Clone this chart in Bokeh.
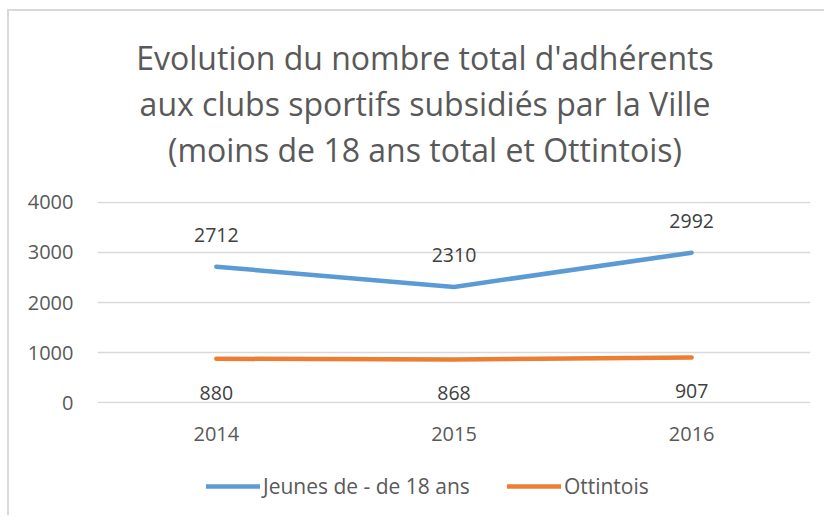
from bokeh.plotting import figure
from bokeh.models import (ColumnDataSource, Range1d, FactorRange, SingleIntervalTicker,
                          LabelSet, Legend, LegendItem, Div, Column)
from bokeh.core.properties import value
from bokeh.embed import file_html
from bokeh.resources import INLINE

years = ["2014", "2015", "2016"]
jeunes = [2712, 2310, 2992]
ottintois = [880, 868, 907]
series_names = ["Jeunes de - de 18 ans", "Ottintois"]
title_lines = ["Evolution du nombre total d'adhérents",
               "aux clubs sportifs subsidiés par la Ville",
               "(moins de 18 ans total et Ottintois)"]

FONT = "Open Sans"
GREY = "#595959"
BLUE = "#5b9bd5"
ORANGE = "#ed7d31"

src = ColumnDataSource(dict(
    year=years, jeunes=jeunes, ottintois=ottintois,
    jl=[str(v) for v in jeunes], ol=[str(v) for v in ottintois]))

title = Div(text="<br>".join(title_lines), width=798, height=138, margin=(24, 0, 0, 17),
            styles={"text-align": "center", "font-family": FONT, "font-size": "32px",
                    "line-height": "46px", "color": GREY, "white-space": "nowrap"})

# main chart
p = figure(width=815, height=285, output_backend="svg", toolbar_location=None,
           x_range=FactorRange(factors=years), y_range=Range1d(-10, 4010),
           min_border_left=88, min_border_right=14, min_border_top=28,
           min_border_bottom=55)
p.outline_line_color = None
p.margin = 0

for ax in (p.xaxis[0], p.yaxis[0]):
    ax.axis_line_color = None
    ax.major_tick_line_color = None
    ax.minor_tick_line_color = None
    ax.major_label_text_font = FONT
    ax.major_label_text_font_size = "20px"
    ax.major_label_text_color = GREY
p.yaxis[0].ticker = SingleIntervalTicker(interval=1000)
p.yaxis[0].major_label_standoff = 18
p.xaxis[0].major_label_standoff = 17

p.xgrid.grid_line_color = None
p.ygrid.grid_line_color = "#d9d9d9"
p.ygrid.grid_line_width = 1.5
p.ygrid.ticker = SingleIntervalTicker(interval=1000)

p.line(x="year", y="jeunes", source=src, line_color=BLUE, line_width=4.5, line_cap="round")
p.line(x="year", y="ottintois", source=src, line_color=ORANGE, line_width=4.5, line_cap="round")

p.add_layout(LabelSet(x="year", y="jeunes", text="jl", source=src, y_offset=32,
                      text_align="center", text_baseline="middle", text_font=value(FONT),
                      text_font_size="19.5px", text_color="#404040"))
p.add_layout(LabelSet(x="year", y="ottintois", text="ol", source=src, y_offset=-34,
                      text_align="center", text_baseline="middle", text_font=value(FONT),
                      text_font_size="19.5px", text_color="#404040"))

# legend strip (same series, drawn outside its view; only the legend shows)
lg = figure(width=815, height=57, output_backend="svg", toolbar_location=None,
            x_range=p.x_range, y_range=Range1d(0, 1),
            x_axis_location=None, y_axis_location=None,
            min_border_left=0, min_border_right=0, min_border_top=0, min_border_bottom=0)
lg.outline_line_color = None
lg.grid.visible = False
lg.margin = 0
l1 = lg.line(x="year", y="jeunes", source=src, line_color=BLUE, line_width=4.5, line_cap="round")
l2 = lg.line(x="year", y="ottintois", source=src, line_color=ORANGE, line_width=4.5, line_cap="round")

legend = Legend(items=[LegendItem(label=series_names[0], renderers=[l1]),
                       LegendItem(label=series_names[1], renderers=[l2])],
                orientation="horizontal", location=(109, 15),
                border_line_color=None, background_fill_alpha=0,
                glyph_width=54, glyph_height=20, label_standoff=3, spacing=37,
                padding=0, margin=0, label_text_font=FONT,
                label_text_font_size="21px", label_text_color=GREY)
lg.add_layout(legend)

layout = Column(children=[title, p, lg], margin=(9, 0, 0, 7), spacing=0,
                styles={"border-left": "2px solid #d9d9d9", "border-top": "2px solid #d9d9d9"})

open("out.html", "w").write(file_html(layout, INLINE))
